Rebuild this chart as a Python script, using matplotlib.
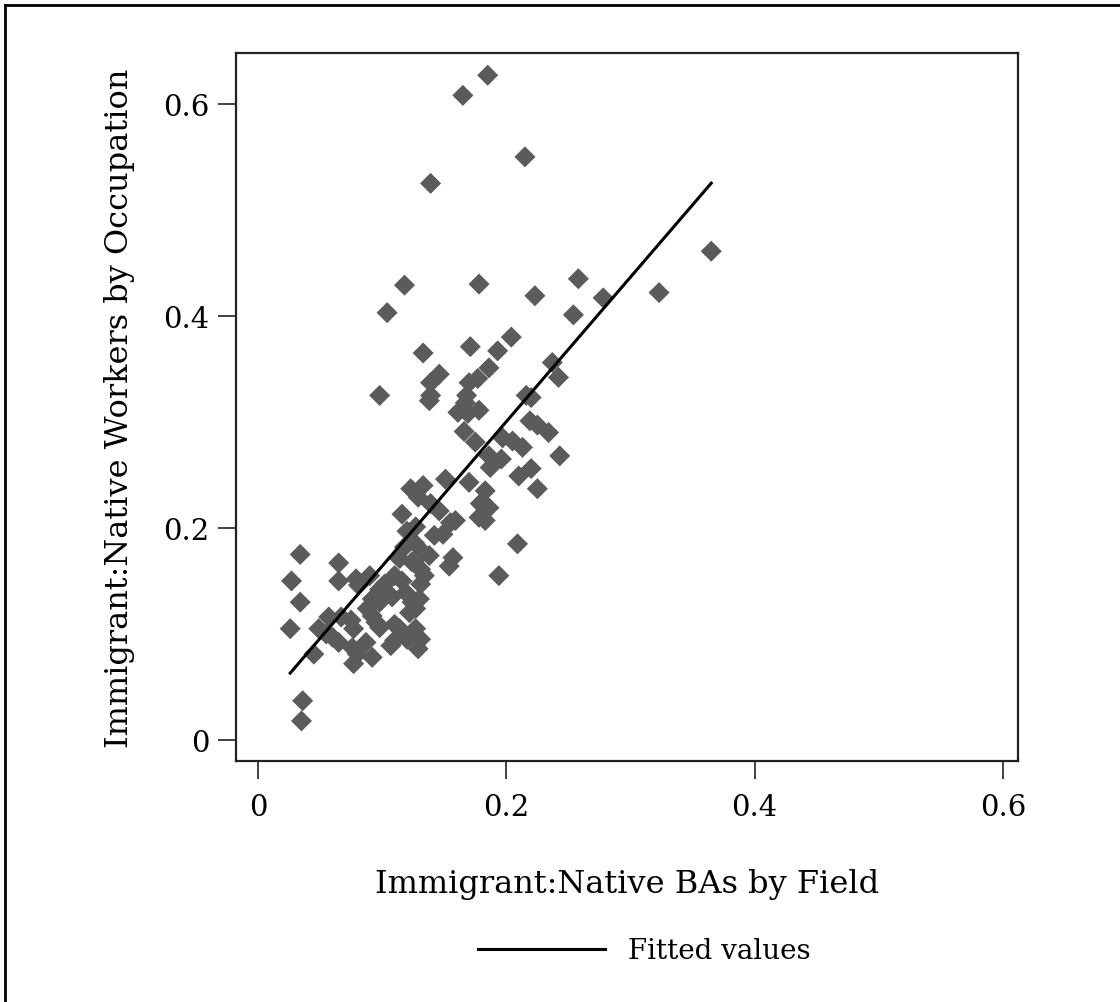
import matplotlib.pyplot as plt
import numpy as np
from matplotlib.lines import Line2D

# immigrant:native BAs by field (x) vs workers by occupation (y)
ba_ratio = [
    0.185, 0.165, 0.215, 0.139, 0.365, 0.258, 0.118, 0.178, 0.323, 0.223,
    0.278, 0.104, 0.254, 0.204, 0.171, 0.193, 0.133, 0.237, 0.186, 0.242,
    0.146, 0.139, 0.177, 0.170, 0.098, 0.139, 0.168, 0.216, 0.220,
    0.138, 0.167, 0.178, 0.161, 0.169, 0.219, 0.225, 0.234, 0.166, 0.175,
    0.197, 0.205, 0.213, 0.243, 0.186, 0.196, 0.187, 0.220, 0.210, 0.225,
    0.183, 0.170, 0.151, 0.123, 0.133, 0.129, 0.179, 0.186, 0.139, 0.146,
    0.116, 0.178, 0.183, 0.155, 0.159, 0.120, 0.127, 0.142, 0.149, 0.209,
    0.126, 0.118, 0.133, 0.138, 0.157, 0.154, 0.114, 0.124, 0.131, 0.134,
    0.110, 0.116, 0.194, 0.102,
    0.034, 0.065, 0.027, 0.065, 0.034, 0.026, 0.036, 0.035, 0.045,
    0.079, 0.090, 0.081, 0.098, 0.100, 0.108, 0.092, 0.098, 0.088, 0.092,
    0.095, 0.098, 0.049, 0.057, 0.067, 0.075, 0.055, 0.060, 0.065, 0.077,
    0.076, 0.080, 0.077, 0.087, 0.092, 0.110, 0.114, 0.107, 0.110, 0.120,
    0.127, 0.131, 0.129, 0.131, 0.119, 0.124, 0.127, 0.130, 0.122,
]
worker_ratio = [
    0.627, 0.608, 0.550, 0.525, 0.461, 0.435, 0.429, 0.430, 0.422, 0.419,
    0.417, 0.403, 0.401, 0.380, 0.371, 0.367, 0.365, 0.356, 0.351, 0.342,
    0.345, 0.337, 0.341, 0.337, 0.325, 0.325, 0.325, 0.325, 0.323,
    0.320, 0.318, 0.311, 0.309, 0.308, 0.301, 0.297, 0.290, 0.291, 0.281,
    0.285, 0.282, 0.276, 0.268, 0.268, 0.265, 0.257, 0.256, 0.249, 0.237,
    0.235, 0.243, 0.246, 0.237, 0.240, 0.229, 0.223, 0.219, 0.223, 0.216,
    0.213, 0.210, 0.207, 0.205, 0.207, 0.197, 0.201, 0.193, 0.194, 0.185,
    0.186, 0.182, 0.177, 0.174, 0.172, 0.164, 0.171, 0.168, 0.161, 0.155,
    0.155, 0.150, 0.155, 0.147,
    0.175, 0.167, 0.150, 0.150, 0.130, 0.105, 0.037, 0.018, 0.081,
    0.152, 0.155, 0.146, 0.142, 0.139, 0.135, 0.133, 0.130, 0.124, 0.117,
    0.111, 0.106, 0.105, 0.116, 0.116, 0.113, 0.100, 0.097, 0.092, 0.105,
    0.087, 0.081, 0.072, 0.092, 0.078, 0.109, 0.105, 0.089, 0.094, 0.095,
    0.105, 0.095, 0.086, 0.147, 0.139, 0.130, 0.124, 0.133, 0.120,
]

# fitted line
fit_intercept = 0.0277
fit_slope = 1.363

x_ticks = [0, 0.2, 0.4, 0.6]
y_ticks = [0, 0.2, 0.4, 0.6]

plt.rcParams['font.family'] = ['DejaVu Serif']

x = np.array(ba_ratio)
y = np.array(worker_ratio)

fig = plt.figure(figsize=(11.2, 10.03), dpi=100)
ax = fig.add_axes([0.2107, 0.2403, 0.6982, 0.7059])

ax.scatter(x, y, marker='D', s=115, color='#5b5b5b', edgecolors='none', zorder=2)

xf = np.array([x.min(), x.max()])
fit_line, = ax.plot(xf, fit_intercept + fit_slope * xf, color='black', lw=2.2, zorder=3)

ax.set_xlim(-0.0177, 0.612)
ax.set_ylim(-0.0198, 0.648)
ax.set_xticks(x_ticks)
ax.set_xticklabels(['0', '0.2', '0.4', '0.6'])
ax.set_yticks(y_ticks)
ax.set_yticklabels(['0', '0.2', '0.4', '0.6'])
ax.tick_params(direction='out', length=13, width=1.3, color='#333333',
               labelsize=21, pad=6)
ax.tick_params(axis='x', pad=10)
for sp in ax.spines.values():
    sp.set_color('#222222')
    sp.set_linewidth(1.6)

ax.set_xlabel('Immigrant:Native BAs by Field', fontsize=23, labelpad=34)
ax.set_ylabel('Immigrant:Native Workers by Occupation', fontsize=23, labelpad=20)

fig.legend([fit_line], ['Fitted values'], loc='center', bbox_to_anchor=(0.575, 0.051),
           frameon=False, fontsize=20, handlelength=4.6, handletextpad=0.8)

# outer frame (only left and top edges visible in the crop)
fig.add_artist(Line2D([5 / 1120, 5 / 1120], [0, 1 - 6 / 1003], transform=fig.transFigure,
                      color='black', lw=2))
fig.add_artist(Line2D([5 / 1120, 1], [1 - 6 / 1003, 1 - 6 / 1003], transform=fig.transFigure,
                      color='black', lw=2))

fig.savefig('out.png', dpi=100)
